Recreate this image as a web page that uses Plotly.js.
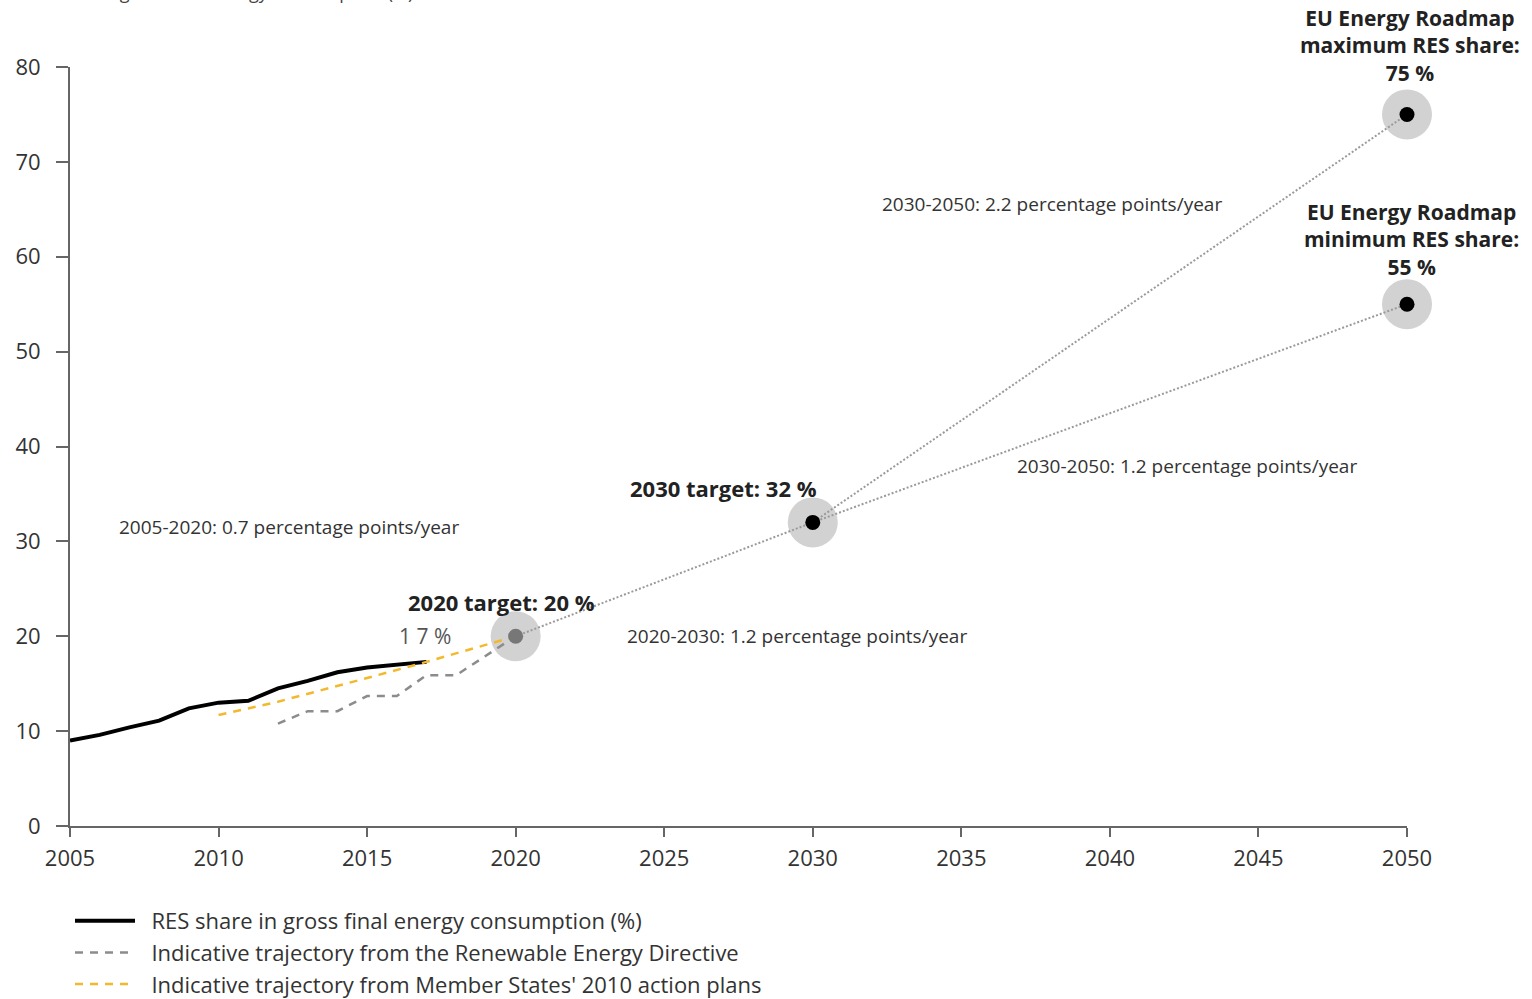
<!DOCTYPE html>
<html>
<head>
<meta charset="utf-8">
<script src="https://cdn.plot.ly/plotly-3.0.1.min.js"></script>
<style>html,body{margin:0;padding:0;background:#fff;}#chart{width:1532px;height:999px;}</style>
</head>
<body>
<div id="chart"></div>
<script>
// Observed RES share in gross final energy consumption (%)
const resYears = [2005, 2006, 2007, 2008, 2009, 2010, 2011, 2012, 2013, 2014, 2015, 2016, 2017];
const resShare = [9.0, 9.6, 10.4, 11.1, 12.4, 13.0, 13.2, 14.5, 15.3, 16.2, 16.7, 17.0, 17.3];

// Indicative trajectory from the Renewable Energy Directive
const redYears = [2012, 2013, 2014, 2015, 2016, 2017, 2018, 2020];
const redShare = [10.8, 12.1, 12.1, 13.7, 13.7, 15.9, 15.9, 20.0];

// Indicative trajectory from Member States' 2010 action plans
const napYears = [2010, 2012, 2015, 2017, 2020];
const napShare = [11.7, 13.1, 15.6, 17.3, 20.0];

// Targets and roadmap paths
const targetYears = [2020, 2030, 2050, 2050];
const targetShare = [20, 32, 75, 55];
const pathMaxYears = [2020, 2030, 2050];
const pathMaxShare = [20, 32, 75];
const pathMinYears = [2030, 2050];
const pathMinShare = [32, 55];

const xTicks = [2005, 2010, 2015, 2020, 2025, 2030, 2035, 2040, 2045, 2050];
const yTicks = [0, 10, 20, 30, 40, 50, 60, 70, 80];

const legendNames = [
  'RES share in gross final energy consumption (%)',
  'Indicative trajectory from the Renewable Energy Directive',
  "Indicative trajectory from Member States' 2010 action plans"
];

const FONT = 'Open Sans, Noto Sans, sans-serif';
const PAD = '\u00a0\u00a0';

const traces = [
  {x: targetYears, y: targetShare, mode: 'markers', type: 'scatter', showlegend: false, hoverinfo: 'skip',
   cliponaxis: false, marker: {size: 50, color: '#d2d2d2', line: {width: 0}}},
  {x: pathMaxYears, y: pathMaxShare, mode: 'lines', type: 'scatter', showlegend: false, hoverinfo: 'skip',
   cliponaxis: false, line: {color: '#9a9a9a', width: 2, dash: '2px,2px'}},
  {x: pathMinYears, y: pathMinShare, mode: 'lines', type: 'scatter', showlegend: false, hoverinfo: 'skip',
   cliponaxis: false, line: {color: '#9a9a9a', width: 2, dash: '2px,2px'}},
  {x: resYears, y: resShare, mode: 'lines', type: 'scatter', name: PAD + legendNames[0], legendgroup: 'a',
   line: {color: '#000000', width: 4}},
  {x: redYears, y: redShare, mode: 'lines', type: 'scatter', name: PAD + legendNames[1], legendgroup: 'b',
   line: {color: '#8c8c8c', width: 2.5, dash: '8px,7px'}},
  {x: napYears, y: napShare, mode: 'lines', type: 'scatter', name: PAD + legendNames[2], legendgroup: 'c',
   line: {color: '#f2b92d', width: 2.5, dash: '8px,7px'}},
  {x: targetYears, y: targetShare, mode: 'markers', type: 'scatter', showlegend: false, hoverinfo: 'skip',
   cliponaxis: false, marker: {size: 15, color: ['#777777', '#000000', '#000000', '#000000']}}
];

function ann(x, y, text, size, bold, color, extra) {
  return Object.assign({
    x: x, y: y, xref: 'x', yref: 'y', text: bold ? '<b>' + text + '</b>' : text,
    showarrow: false, font: {family: FONT, size: size, color: color || '#333'},
    xanchor: 'center', yanchor: 'middle'
  }, extra || {});
}

const annotations = [
  {x: 0, y: 1.0805, xref: 'paper', yref: 'paper', xanchor: 'left', yanchor: 'bottom', xshift: -60,
   text: 'RES share in gross final energy consumption (%)', showarrow: false,
   font: {family: FONT, size: 18, color: '#444'}},
  ann(2012.37, 31.52, '2005-2020: 0.7 percentage points/year', 19, false, '#333'),
  ann(2019.51, 23.61, '2020 target: 20 %', 22, true, '#222'),
  ann(2016.95, 20.03, '1 7 %', 21, false, '#555'),
  ann(2029.47, 20.03, '2020-2030: 1.2 percentage points/year', 19, false, '#333'),
  ann(2027.01, 35.63, '2030 target: 32 %', 22, true, '#222'),
  ann(2038.05, 65.56, '2030-2050: 2.2 percentage points/year', 19, false, '#333'),
  ann(2042.6, 37.94, '2030-2050: 1.2 percentage points/year', 19, false, '#333'),
  {x: 1, y: 1.0277, xref: 'paper', yref: 'paper', xanchor: 'center', yanchor: 'middle', xshift: 3,
   text: '<b>EU Energy Roadmap<br>maximum RES share:<br>75 %</b>', showarrow: false,
   font: {family: FONT, size: 21, color: '#222'}},
  ann(2050, 61.87, 'EU Energy Roadmap<br>minimum RES share:<br>55 %', 21, true, '#222', {xshift: 4})
];

const layout = {
  width: 1532, height: 999,
  margin: {l: 70, r: 125, t: 67, b: 173, pad: 0, autoexpand: false},
  paper_bgcolor: '#fff', plot_bgcolor: '#fff',
  font: {family: FONT, size: 20, color: '#333'},
  showlegend: true,
  legend: {x: 0, y: -0.0975, xanchor: 'left', yanchor: 'top', orientation: 'v',
    font: {family: FONT, size: 22, color: '#333'}, itemwidth: 60, tracegroupgap: 0,
    traceorder: 'grouped', bgcolor: 'rgba(0,0,0,0)'},
  xaxis: {range: [2005, 2050], tickvals: xTicks, ticktext: xTicks.map(String), showgrid: false, zeroline: false,
    showline: true, linecolor: '#666', linewidth: 2, ticks: 'outside', ticklen: 9, tickwidth: 2, tickcolor: '#666',
    tickfont: {family: FONT, size: 22, color: '#333'}, ticklabelstandoff: 3, fixedrange: true},
  yaxis: {range: [0, 80], tickvals: yTicks, ticktext: yTicks.map(String), showgrid: false, zeroline: false,
    showline: true, linecolor: '#666', linewidth: 2, ticks: 'outside', ticklen: 12, tickwidth: 2, tickcolor: '#666',
    tickfont: {family: FONT, size: 22, color: '#333'}, ticklabelstandoff: 11, fixedrange: true},
  annotations: annotations,
  hovermode: false
};

Plotly.newPlot('chart', traces, layout, {displayModeBar: false, staticPlot: true});
</script>
</body>
</html>
